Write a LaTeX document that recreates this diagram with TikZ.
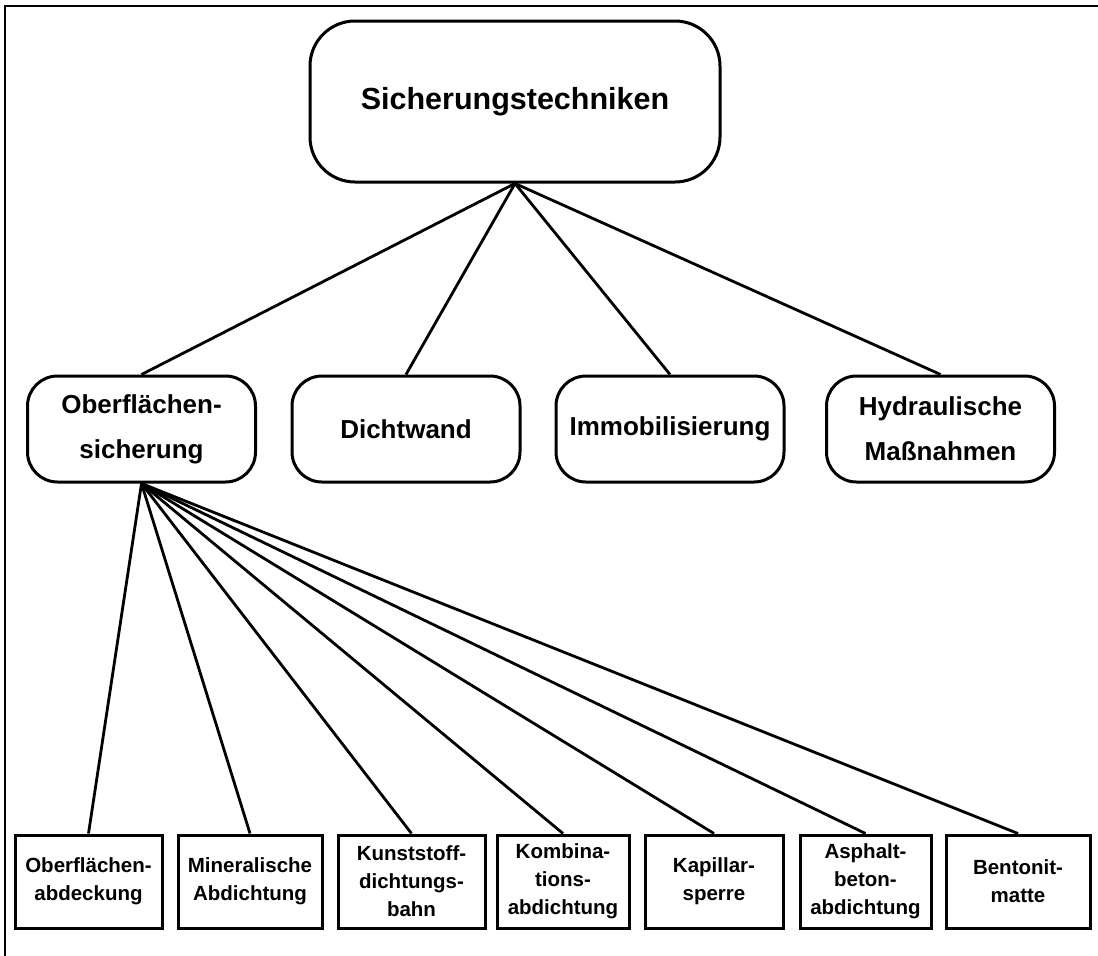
\documentclass[tikz,border=0pt]{standalone}
\usepackage{fontspec}
\setmainfont{Liberation Sans}
\begin{document}
\begin{tikzpicture}[x=1pt,y=-1pt,
  frame/.style={line width=2.8pt},
  link/.style={line width=2.8pt},
  topbox/.style={draw,line width=3pt,rounded corners=45pt,minimum width=410pt,minimum height=161pt,inner sep=0pt,align=center,font=\bfseries\fontsize{30.5}{36}\selectfont},
  midbox/.style={draw,line width=3pt,rounded corners=30pt,minimum width=228pt,minimum height=106pt,inner sep=0pt,align=center,font=\bfseries\fontsize{26}{45}\selectfont},
  lowbox/.style={draw,line width=3pt,minimum height=93pt,inner sep=0pt,align=center,font=\bfseries\fontsize{20.5}{28}\selectfont}
]
\useasboundingbox (0,0) rectangle (1098,956);
\coordinate (fTL) at (5,6);
\coordinate (fTR) at (1098,6);
\coordinate (fBL) at (5,956);
\draw[frame] (fTR) -- (fTL) -- (fBL);

\node[topbox] (top) at (515,101.5) {Sicherungstechniken};

\node[midbox] (m1) at (141.5,429) {Oberflächen-\\sicherung};
\node[midbox] (m2) at (406,429) {Dichtwand};
\node[midbox] (m3) at (670,429) {Immobilisierung};
\node[midbox] (m4) at (940.5,429) {Hydraulische\\Maßnahmen};

\node[lowbox,minimum width=147pt] (b1) at (88.5,881.5) {Oberflächen-\\abdeckung};
\node[lowbox,minimum width=144pt] (b2) at (250,881.5) {Mineralische\\Abdichtung};
\node[lowbox,minimum width=147pt] (b3) at (411.5,881.5) {Kunststoff-\\dichtungs-\\bahn};
\node[lowbox,minimum width=132pt] (b4) at (563,881.5) {Kombina-\\tions-\\abdichtung};
\node[lowbox,minimum width=138pt] (b5) at (714,881.5) {Kapillar-\\sperre};
\node[lowbox,minimum width=131pt] (b6) at (865.5,881.5) {Asphalt-\\beton-\\abdichtung};
\node[lowbox,minimum width=144pt] (b7) at (1018,881.5) {Bentonit-\\matte};

\foreach \m in {m1,m2,m3,m4} \draw[link] (top.south) -- (\m.north);
\foreach \b in {b1,b2,b3,b4,b5,b6,b7} \draw[link] (m1.south) -- (\b.north);
\end{tikzpicture}
\end{document}
